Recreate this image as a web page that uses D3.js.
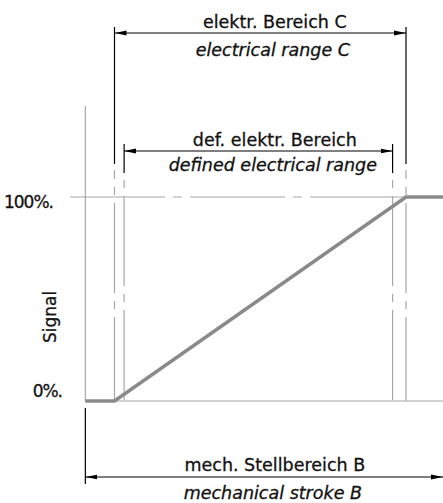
<!DOCTYPE html>
<html>
<head>
<meta charset="utf-8">
<script src="https://cdn.jsdelivr.net/npm/d3@7"></script>
<style>
  body { margin: 0; background: #fff; }
  text { font-family: "DejaVu Sans", sans-serif; fill: #111; stroke: #111; stroke-width: 0.3; }
</style>
</head>
<body>
<div id="chart"></div>
<script>
// positions along the stroke, electrical range C = 0..100
var mechRange = [-10, 113];
var elecRange = [0, 100];
var defRange = [3.3, 95.4];
// signal characteristic (stroke, percent)
var signalX = [-10, 0, 100, 113];
var signalY = [0, 0, 100, 100];
var yTicks = [0, 100];
var yTickLabels = ["0%.", "100%."];
var labelsC = ["elektr. Bereich C", "electrical range C"];
var labelsDef = ["def. elektr. Bereich", "defined electrical range"];
var labelsB = ["mech. Stellbereich B", "mechanical stroke B"];
var yLabel = "Signal";

var width = 443, height = 503;

var x = d3.scaleLinear().domain(elecRange).range([114.5, 406]);
var y = d3.scaleLinear().domain([0, 100]).range([401, 197]);

var svg = d3.select("#chart").append("svg")
  .attr("width", width)
  .attr("height", height);

var defs = svg.append("defs");
defs.append("marker")
  .attr("id", "arr")
  .attr("viewBox", "0 0 12 6")
  .attr("refX", 12).attr("refY", 3)
  .attr("markerWidth", 12).attr("markerHeight", 6)
  .attr("markerUnits", "userSpaceOnUse")
  .attr("orient", "auto-start-reverse")
  .append("path")
  .attr("d", "M0,0.6 L12,3 L0,5.4 Z")
  .attr("fill", "#000");

var grey = "#a8a8a8";
var dashDot = "90,8,8,8";

// horizontal reference lines
svg.append("line")
  .attr("x1", 70).attr("x2", width)
  .attr("y1", y(100)).attr("y2", y(100))
  .attr("stroke", grey).attr("stroke-width", 1.2)
  .attr("stroke-dasharray", "95,8,9,8");
svg.append("line")
  .attr("x1", x(mechRange[0])).attr("x2", width)
  .attr("y1", y(0)).attr("y2", y(0))
  .attr("stroke", grey).attr("stroke-width", 1.2);

// y axis line
svg.append("line")
  .attr("x1", x(mechRange[0])).attr("x2", x(mechRange[0]))
  .attr("y1", 106).attr("y2", y(0))
  .attr("stroke", grey).attr("stroke-width", 1.2);

// extension lines: black part up top, grey dash-dot down to the baseline
function extension(xv, top, bottom, offset) {
  svg.append("line")
    .attr("x1", x(xv)).attr("x2", x(xv))
    .attr("y1", top).attr("y2", bottom)
    .attr("stroke", "#000").attr("stroke-width", 1.2);
  svg.append("line")
    .attr("x1", x(xv)).attr("x2", x(xv))
    .attr("y1", bottom + 6).attr("y2", y(0))
    .attr("stroke", grey).attr("stroke-width", 1.2)
    .attr("stroke-dasharray", dashDot)
    .attr("stroke-dashoffset", offset);
}
extension(elecRange[0], 27, 164, 81);
extension(elecRange[1], 27, 164, 81);
extension(defRange[0], 144, 173, 97);
extension(defRange[1], 144, 173, 97);

// dimension lines with arrows
function dimension(r, yy) {
  svg.append("line")
    .attr("x1", Math.max(x(r[0]), 0)).attr("x2", Math.min(x(r[1]), width))
    .attr("y1", yy).attr("y2", yy)
    .attr("stroke", "#000").attr("stroke-width", 1)
    .attr("marker-start", "url(#arr)")
    .attr("marker-end", "url(#arr)");
}
dimension(elecRange, 33);
dimension(defRange, 151);
dimension(mechRange, 477);

// left tick for mechanical stroke
svg.append("line")
  .attr("x1", x(mechRange[0])).attr("x2", x(mechRange[0]))
  .attr("y1", 408).attr("y2", 484)
  .attr("stroke", "#000").attr("stroke-width", 1.2);

// signal curve
var line = d3.line()
  .x(function(d, i) { return x(signalX[i]); })
  .y(function(d) { return y(d); });
svg.append("path")
  .datum(signalY)
  .attr("d", line)
  .attr("fill", "none")
  .attr("stroke", "#8a8a8a")
  .attr("stroke-width", 3.5);

// labels
var cx = x(55);
function twoLines(lbl, y1, y2) {
  svg.append("text").attr("x", cx).attr("y", y1)
    .attr("text-anchor", "middle").attr("font-size", 17.5)
    .text(lbl[0]);
  svg.append("text").attr("x", cx - 2).attr("y", y2)
    .attr("text-anchor", "middle").attr("font-size", 17.5)
    .attr("font-style", "italic")
    .text(lbl[1]);
}
twoLines(labelsC, 28, 56);
twoLines(labelsDef, 146, 171);
twoLines(labelsB, 471, 499);

// y tick labels
svg.selectAll("text.tick")
  .data(yTicks)
  .enter().append("text")
  .attr("class", "tick")
  .attr("x", function(d) { return d === 0 ? 62 : 53; })
  .attr("y", function(d) { return d === 0 ? y(d) - 4 : y(d) + 11; })
  .attr("text-anchor", "end")
  .attr("font-size", 17)
  .attr("letter-spacing", -1)
  .text(function(d, i) { return yTickLabels[i]; });

svg.append("text")
  .attr("transform", "translate(56,317) rotate(-90)")
  .attr("text-anchor", "middle")
  .attr("font-size", 17)
  .text(yLabel);
</script>
</body>
</html>
